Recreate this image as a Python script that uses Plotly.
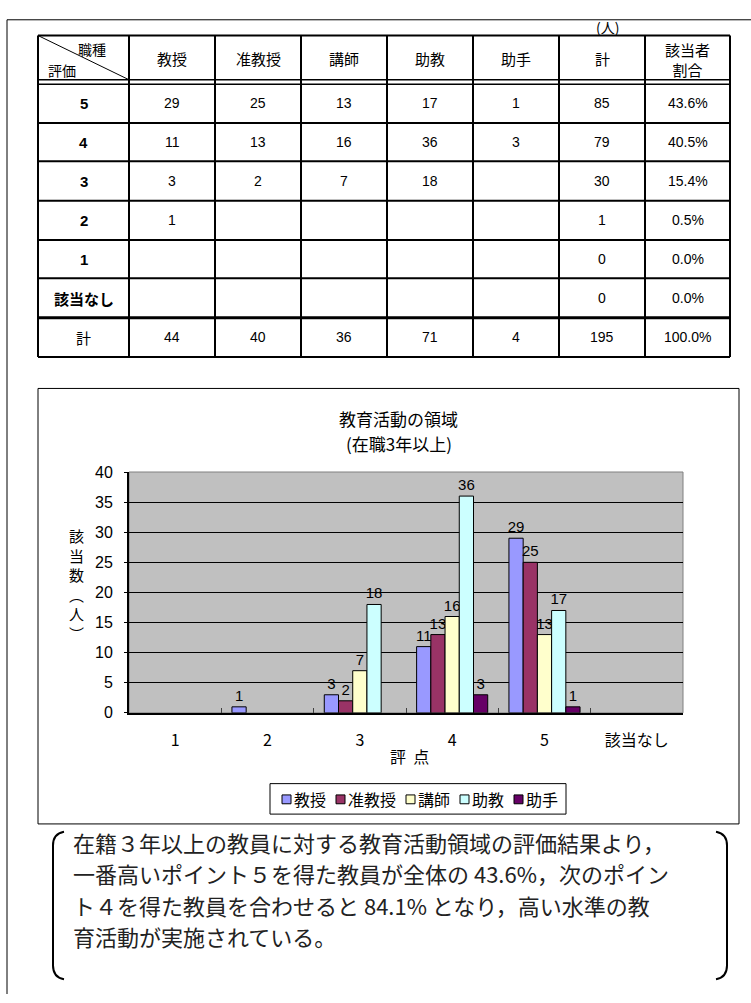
import plotly.graph_objects as go

W, H = 751, 1003


def X(px):
    return px / W


def Y(py):
    return 1 - py / H


# ---------------- data ----------------
categories = ['1', '2', '3', '4', '5', '該当なし']          # chart x order
ranks = ['5', '4', '3', '2', '1', '該当なし']               # table row order
positions = ['教授', '准教授', '講師', '助教', '助手']
prof = [29, 11, 3, 1, None, None]
assoc_prof = [25, 13, 2, None, None, None]
lecturer = [13, 16, 7, None, None, None]
assist_prof = [17, 36, 18, None, None, None]
assistant = [1, 3, None, None, None, None]
row_total = [85, 79, 30, 1, 0, 0]
row_share = ['43.6%', '40.5%', '15.4%', '0.5%', '0.0%', '0.0%']
col_total = [44, 40, 36, 71, 4]
grand_total = 195
grand_share = '100.0%'
y_ticks = [0, 5, 10, 15, 20, 25, 30, 35, 40]
colors = ['#9999FF', '#993366', '#FFFFCC', '#CCFFFF', '#660066']
series = [prof, assoc_prof, lecturer, assist_prof, assistant]

JP = 'Noto Sans CJK JP'
NUM = 'Liberation Sans Narrow, Liberation Sans, Arial'
ARIAL = 'Liberation Sans, Arial'

fig = go.Figure()

for name, vals, col in zip(positions, series, colors):
    m = dict(zip(ranks, vals))
    yv = [m[c] for c in categories]
    fig.add_bar(
        x=categories, y=yv, name=name,
        marker=dict(color=col, line=dict(color='black', width=1)),
        texttemplate='%{y}', textposition='outside', constraintext='none',
        textfont=dict(size=15, family=ARIAL, color='black'),
        cliponaxis=False,
    )

shapes = []
ann = []


def line(x0, y0, x1, y1, w=1, color='black'):
    shapes.append(dict(type='line', xref='paper', yref='paper',
                       x0=X(x0), y0=Y(y0), x1=X(x1), y1=Y(y1),
                       line=dict(color=color, width=w)))


def rect(x0, y0, x1, y1, w=1, fill='rgba(0,0,0,0)', color='black'):
    shapes.append(dict(type='rect', xref='paper', yref='paper',
                       x0=X(x0), x1=X(x1), y0=Y(y1), y1=Y(y0),
                       line=dict(color=color, width=w), fillcolor=fill))


def text(x, y, s, size=14, family=JP, color='black', xanchor='center', **kw):
    ann.append(dict(xref='paper', yref='paper', x=X(x), y=Y(y), text=s,
                    showarrow=False, xanchor=xanchor, yanchor='middle',
                    font=dict(size=size, family=family, color=color), **kw))


# ---------------- outer frame ----------------
line(7, 12, 751, 12, 1)
line(7, 12, 7, 1003, 1)

# ---------------- table ----------------
col_edges = [38, 129, 215, 301, 387, 473, 559, 645, 730]
row_tops = [77, 117, 156, 196, 236, 275]
row_bots = [117, 156, 196, 236, 275, 315]
t_top, h_bot, tot_top, t_bot = 28, 75, 315, 355

for xe in col_edges:
    line(xe, t_top, xe, t_bot, 2)
line(col_edges[0], t_top, col_edges[-1], t_top, 2)
line(col_edges[0], 73, col_edges[-1], 73, 1.5)
line(col_edges[0], 77.5, col_edges[-1], 77.5, 1.5)
for yb in row_bots[:-1]:
    line(col_edges[0], yb, col_edges[-1], yb, 2)
line(col_edges[0], tot_top, col_edges[-1], tot_top, 3)
line(col_edges[0], t_bot, col_edges[-1], t_bot, 2)
line(col_edges[0], t_top, col_edges[1], 73, 1)

text(607, 19, '(人)', 14)
text(92, 42, '職種', 14)
text(62, 63, '評価', 14)
centers = [(col_edges[i] + col_edges[i + 1]) / 2 for i in range(len(col_edges) - 1)]
hy = (t_top + h_bot) / 2
for i, p in enumerate(positions):
    text(centers[i + 1], hy, p, 15)
text(centers[6], hy, '計', 15)
text(centers[7], hy + 1, '該当者<br>割合', 15)

for r in range(len(ranks)):
    cy = (row_tops[r] + row_bots[r]) / 2
    lab = ranks[r]
    text(centers[0], cy, f'<b>{lab}</b>', 15, JP if not lab.isdigit() else ARIAL)
    for i, s in enumerate(series):
        v = s[r]
        if v is not None:
            text(centers[i + 1], cy, str(v), 14, NUM)
    text(centers[6], cy, str(row_total[r]), 14, NUM)
    text(centers[7], cy, row_share[r], 14, NUM)

ty = (tot_top + t_bot) / 2
text(centers[0], ty, '計', 15)
for i, v in enumerate(col_total):
    text(centers[i + 1], ty, str(v), 14, NUM)
text(centers[6], ty, str(grand_total), 14, NUM)
text(centers[7], ty, grand_share, 14, NUM)

# ---------------- chart frame & titles ----------------
rect(38, 387, 739, 830, 1)
shapes.append(dict(type='rect', xref='x domain', yref='y domain',
                   x0=0, x1=1, y0=0, y1=1, layer='below',
                   line=dict(color='#808080', width=1), fillcolor='rgba(0,0,0,0)'))
text(398, 418, '教育活動の領域', 17)
text(399, 443, '(在職3年以上)', 17)
text(76, 586, '該<br>当<br>数<br>︵<br>人<br>︶', 15)
text(409, 761, '評  点', 16)

# legend (box + swatches + labels)
rect(270, 789, 566, 820, 1, fill='white')
sq, sq_gap, ch, item_gap = 9, 3, 16, 10
lx, ly = 282, 805
for n, c in zip(positions, colors):
    rect(lx, ly - sq / 2, lx + sq, ly + sq / 2, 1, fill=c)
    text(lx + sq + sq_gap - 1, ly, n, 16, xanchor='left', borderpad=0)
    lx += sq + sq_gap + ch * len(n) + item_gap

# ---------------- comment box ----------------
def bracket(xv, xe, y0, y1):
    p = (f'M {X(xe)} {Y(y0)} Q {X(xv)} {Y(y0 + 2)} {X(xv)} {Y(y0 + 14)} '
         f'L {X(xv)} {Y(y1 - 14)} Q {X(xv)} {Y(y1 - 2)} {X(xe)} {Y(y1)}')
    shapes.append(dict(type='path', xref='paper', yref='paper', path=p,
                       line=dict(color='black', width=2)))


bracket(53, 64, 838, 988)
bracket(727, 716, 838, 988)
comment_lines = [
    '在籍３年以上の教員に対する教育活動領域の評価結果より，',
    '一番高いポイント５を得た教員が全体の 43.6%，次のポイン',
    'ト４を得た教員を合わせると 84.1% となり，高い水準の教',
    '育活動が実施されている。',
]
for k, s in enumerate(comment_lines):
    text(72, 848 + 32 * k, s, 22, color='#222', xanchor='left', borderpad=0)

fig.update_layout(
    width=W, height=H, autosize=False,
    margin=dict(l=0, r=0, t=0, b=0),
    paper_bgcolor='white', plot_bgcolor='#C0C0C0',
    barmode='group', bargap=0.23, bargroupgap=0,
    showlegend=False,
    shapes=shapes, annotations=ann,
    xaxis=dict(domain=[X(129), X(683)], type='category',
               categoryorder='array', categoryarray=categories,
               showline=True, linecolor='black', linewidth=2,
               ticks='inside', tickson='boundaries', ticklen=5, tickcolor='#404040',
               ticklabelstandoff=12,
               tickfont=dict(size=16, family=JP, color='black'),
               showgrid=False, zeroline=False),
    yaxis=dict(domain=[Y(717), Y(472)], range=[0, 40], tickvals=y_ticks,
               showline=True, linecolor='black', linewidth=2,
               ticks='outside', ticklen=3, tickcolor='black',
               ticklabelstandoff=8,
               tickfont=dict(size=16, family=ARIAL, color='black'),
               showgrid=True, gridcolor='black', gridwidth=1, zeroline=False),
    font=dict(family=JP, color='black'),
)

fig.write_html('out.html', config={'displayModeBar': False},
               post_script="document.body.style.margin='0';document.body.style.overflow='hidden';")
